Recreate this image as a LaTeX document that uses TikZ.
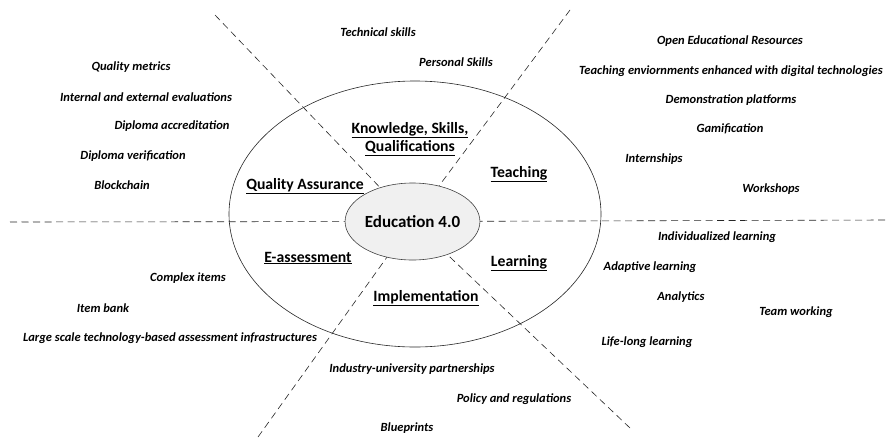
\documentclass[tikz,border=0pt]{standalone}
\usepackage{fontspec}
\setmainfont{Carlito}
\usetikzlibrary{shapes.geometric}
\begin{document}
\begin{tikzpicture}
            [x=1pt,y=-1pt,
             Hub/.style={ellipse,draw=black!75,fill=black!6,line width=0.6pt,minimum width=115pt,minimum height=77pt,inner sep=0pt,font=\fontsize{17}{20}\selectfont\bfseries},
             Area/.style={align=center,font=\fontsize{15.7}{18.5}\selectfont\bfseries},
             Item/.style={font=\fontsize{12.5}{14}\selectfont\bfseries\itshape},
             Split/.style={draw=black!85,line width=0.6pt,dash pattern=on 7pt off 4.5pt}];
            \useasboundingbox (0,0) rectangle (887,437);

            \draw[black!85,line width=0.6pt] (415,214) ellipse [x radius=186,y radius=133];
            \node[Hub] (edu) at (412.5,221.5) {Education 4.0};

            \coordinate (w) at (10,222);
            \coordinate (e) at (885,220);
            \coordinate (nw) at (215,15);
            \coordinate (ne) at (570,10);
            \coordinate (sw) at (258,437);
            \coordinate (se) at (630,428);

            \draw[Split] (w) -- (edu);
            \draw[Split] (e) -- (edu);
            \draw[Split] (nw) -- (edu);
            \draw[Split] (ne) -- (edu);
            \draw[Split] (sw) -- (edu);
            \draw[Split] (se) -- (edu);

            \node[Area] (ksq) at (410,139) {\underline{Knowledge, Skills,}\\\underline{Qualifications}};
            \node[Area] (qa) at (305,186) {\underline{Quality Assurance}};
            \node[Area] (teach) at (519,174) {\underline{Teaching}};
            \node[Area] (eass) at (308,258) {\underline{E-assessment}};
            \node[Area] (learn) at (519,263) {\underline{Learning}};
            \node[Area] (impl) at (426,298) {\underline{Implementation}};

            \node[Item] (tech) at (378,32) {Technical skills};
            \node[Item] (pers) at (456,62) {Personal Skills};

            \node[Item] (qm) at (131,67) {Quality metrics};
            \node[Item] (iee) at (146,97) {Internal and external evaluations};
            \node[Item] (dac) at (172,126) {Diploma accreditation};
            \node[Item] (dve) at (133,156) {Diploma verification};
            \node[Item] (bc) at (122,185) {Blockchain};

            \node[Item] (oer) at (730,41) {Open Educational Resources};
            \node[Item] (ted) at (731,71) {Teaching enviornments enhanced with digital technologies};
            \node[Item] (dp) at (731,100) {Demonstration platforms};
            \node[Item] (gam) at (730,129) {Gamification};
            \node[Item] (intern) at (654,159) {Internships};
            \node[Item] (ws) at (771,189) {Workshops};

            \node[Item] (ci) at (188,278) {Complex items};
            \node[Item] (ib) at (103,308) {Item bank};
            \node[Item] (ls) at (170,338) {Large scale technology-based assessment infrastructures};

            \node[Item] (iup) at (412,369) {Industry-university partnerships};
            \node[Item] (pr) at (514,399) {Policy and regulations};
            \node[Item] (bp) at (407,428) {Blueprints};

            \node[Item] (il) at (717,237) {Individualized learning};
            \node[Item] (al) at (650,267) {Adaptive learning};
            \node[Item] (an) at (681,297) {Analytics};
            \node[Item] (tw) at (796,312) {Team working};
            \node[Item] (lll) at (647,342) {Life-long learning};
        \end{tikzpicture}
\end{document}
